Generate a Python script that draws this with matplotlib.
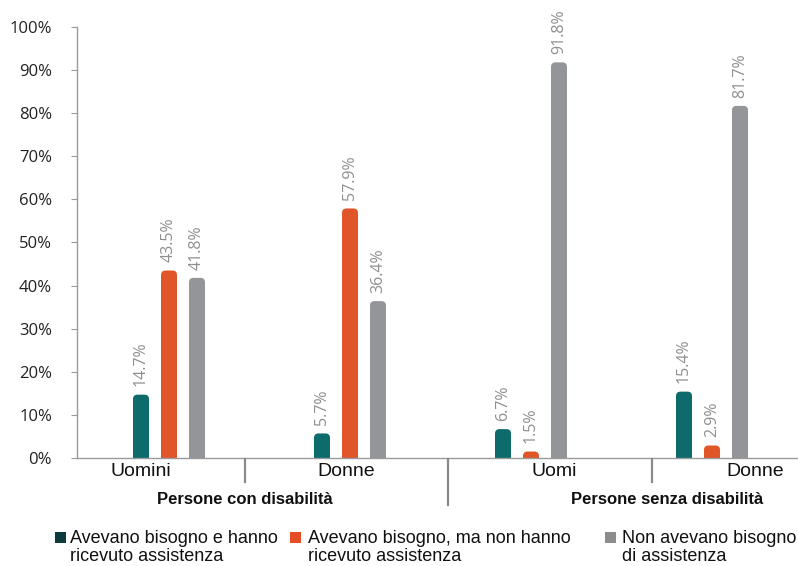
import matplotlib
matplotlib.use("Agg")
import matplotlib.pyplot as plt
from matplotlib.patches import FancyBboxPatch
from matplotlib import font_manager

# ---- data ----
categories = ["Uomini", "Donne", "Uomi", "Donne"]
groups = ["Persone con disabilità", "Persone senza disabilità"]
series_names = [
    "Avevano bisogno e hanno\nricevuto assistenza",
    "Avevano bisogno, ma non hanno\nricevuto assistenza",
    "Non avevano bisogno\ndi assistenza",
]
ricevuto = [14.7, 5.7, 6.7, 15.4]
non_ricevuto = [43.5, 57.9, 1.5, 2.9]
non_bisogno = [41.8, 36.4, 91.8, 81.7]
yticks = [0, 10, 20, 30, 40, 50, 60, 70, 80, 90, 100]
ytick_labels = [f"{t}%" for t in yticks]

series = [ricevuto, non_ricevuto, non_bisogno]
bar_colors = ["#0d6b6b", "#e05628", "#939598"]
legend_colors = ["#0d3b3d", "#e44d26", "#8c8c8c"]

available = {f.name for f in font_manager.fontManager.ttflist}
narrow = "Liberation Sans Narrow" if "Liberation Sans Narrow" in available else "Liberation Sans"
num_font = "Open Sans"

W, H = 798, 566
fig = plt.figure(figsize=(W / 100, H / 100), dpi=100)

# axes geometry in pixels
ax_left, ax_right = 77, 798
ax_top, ax_bottom = 27, 458
ax = fig.add_axes([ax_left / W, 1 - ax_bottom / H,
                   (ax_right - ax_left) / W, (ax_bottom - ax_top) / H])

# x data units: category spacing 181 px, first category centre at px 169
px_per_x = 181.0
x0_px = 169.0
ax.set_xlim((ax_left - x0_px) / px_per_x, (ax_right - x0_px) / px_per_x)
ax.set_ylim(0, 100)
px_per_y = (ax_bottom - ax_top) / 100.0

bar_w = 16 / px_per_x
offsets = [-28 / px_per_x, 0.0, 28 / px_per_x]
r_px = 4.5
for si, vals in enumerate(series):
    for ci, v in enumerate(vals):
        xc = ci + offsets[si]
        patch = FancyBboxPatch(
            (xc - bar_w / 2, -5), bar_w, v + 5,
            boxstyle=f"round,pad=0,rounding_size={r_px / px_per_x}",
            mutation_aspect=px_per_x / px_per_y,
            facecolor=bar_colors[si], edgecolor="none", clip_on=True, zorder=2)
        ax.add_patch(patch)
        ax.annotate(f"{v:.1f}%", (xc, v), xytext=(0, 6), textcoords="offset points",
                    rotation=90, ha="center", va="bottom", fontsize=11.5,
                    color="#8f8f8f", family=num_font)

# axes styling
for s in ["top", "right"]:
    ax.spines[s].set_visible(False)
ax.spines["left"].set_color("#9a9a9a")
ax.spines["left"].set_linewidth(1.0)
ax.spines["bottom"].set_color("#9a9a9a")
ax.spines["bottom"].set_linewidth(1.0)
ax.set_yticks(yticks)
ax.set_yticklabels(ytick_labels, family=num_font, fontsize=12, color="#222222")
ax.tick_params(axis="y", length=4, width=0.8, color="#9a9a9a", pad=14)
ax.set_xticks([])


def yfig(px):
    return 1 - px / H


# category labels
cat_px = [141, 346, 554, 755]
for name, px in zip(categories, cat_px):
    fig.text(px / W, yfig(471), name, ha="center", va="center",
             fontsize=14, family=narrow, color="#111111")

# separators below the baseline
for px, bottom in [(245, 482), (448, 505), (652, 482)]:
    fig.add_artist(plt.Line2D([px / W, px / W], [yfig(459), yfig(bottom)],
                              color="#8a8a8a", linewidth=1.6))

# group labels
for name, px in zip(groups, [245, 667]):
    fig.text(px / W, yfig(499), name, ha="center", va="center",
             fontsize=12, fontweight="bold", family=narrow, color="#111111")

# legend
leg_sq_px = [55, 290, 605]
leg_txt_px = [70, 308, 622]
for name, c, sq, tx in zip(series_names, legend_colors, leg_sq_px, leg_txt_px):
    fig.patches.append(plt.Rectangle((sq / W, yfig(543)), 11 / W, 11 / H,
                                     transform=fig.transFigure, facecolor=c,
                                     edgecolor="none"))
    fig.text(tx / W, yfig(530), name, ha="left", va="top", fontsize=13,
             family=narrow, color="#111111", linespacing=1.1)

fig.savefig("out.png", dpi=100, facecolor="white")
